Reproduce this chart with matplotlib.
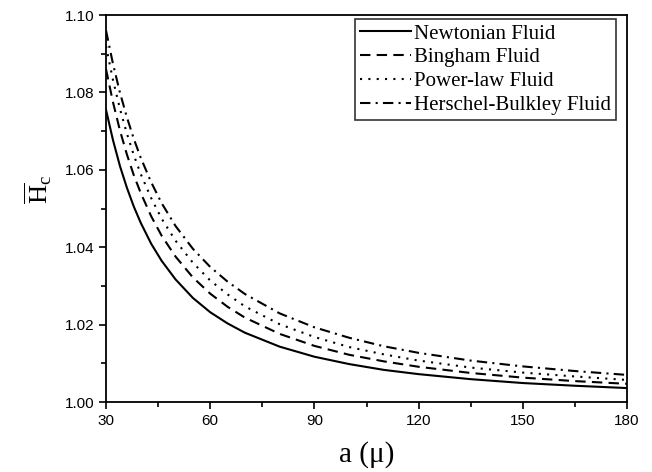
import matplotlib.pyplot as plt
from matplotlib.ticker import MultipleLocator

# a (mu) sample points and values
a_vals = [30, 32, 34, 36, 38, 40, 43, 46, 50, 55, 60, 65, 70, 80, 90,
          100, 110, 120, 135, 150, 165, 180]
newtonian = [1.0755, 1.0677, 1.0610, 1.0554, 1.0505, 1.0463, 1.0409, 1.0365,
             1.0317, 1.0269, 1.0232, 1.0203, 1.0179, 1.0143, 1.0117, 1.0098,
             1.0083, 1.0072, 1.0059, 1.0049, 1.0042, 1.0036]
bingham = [1.0860, 1.0775, 1.0702, 1.0640, 1.0586, 1.0540, 1.0480, 1.0430,
           1.0376, 1.0322, 1.0280, 1.0246, 1.0218, 1.0176, 1.0145, 1.0122,
           1.0105, 1.0091, 1.0075, 1.0063, 1.0054, 1.0047]
power_law = [1.0920, 1.0832, 1.0758, 1.0694, 1.0638, 1.0589, 1.0527, 1.0474,
             1.0417, 1.0360, 1.0314, 1.0278, 1.0247, 1.0201, 1.0168, 1.0142,
             1.0123, 1.0107, 1.0089, 1.0076, 1.0066, 1.0057]
herschel = [1.0960, 1.0874, 1.0800, 1.0736, 1.0680, 1.0631, 1.0568, 1.0514,
            1.0455, 1.0396, 1.0349, 1.0311, 1.0279, 1.0229, 1.0193, 1.0166,
            1.0144, 1.0127, 1.0107, 1.0092, 1.0080, 1.0070]

labels = ["Newtonian Fluid", "Bingham Fluid", "Power-law Fluid",
          "Herschel-Bulkley Fluid"]


def main():
    plt.rcParams['font.family'] = 'Liberation Sans'
    plt.rcParams['mathtext.fontset'] = 'custom'
    plt.rcParams['mathtext.rm'] = 'Liberation Serif'
    plt.rcParams['mathtext.it'] = 'Liberation Serif:italic'

    fig = plt.figure(figsize=(6.52, 4.72), dpi=100)
    ax = fig.add_axes([0.1626, 0.1483, 0.7991, 0.8199])

    ax.plot(a_vals, newtonian, color='black', lw=1.5, linestyle='-',
            label=labels[0])
    ax.plot(a_vals, bingham, color='black', lw=1.5, linestyle=(0, (5, 3)),
            label=labels[1])
    ax.plot(a_vals, power_law, color='black', lw=1.5, linestyle=(0, (1, 3)),
            label=labels[2])
    ax.plot(a_vals, herschel, color='black', lw=1.5,
            linestyle=(0, (5, 2.5, 1, 2.5)), label=labels[3])

    ax.set_xlim(30, 180)
    ax.set_ylim(1.00, 1.10)
    ax.xaxis.set_major_locator(MultipleLocator(30))
    ax.xaxis.set_minor_locator(MultipleLocator(15))
    ax.yaxis.set_major_locator(MultipleLocator(0.02))
    ax.yaxis.set_minor_locator(MultipleLocator(0.01))
    ax.yaxis.set_major_formatter(lambda v, p: "%.2f" % v)
    ax.tick_params(which='both', direction='out', top=False, right=False,
                   labelsize=11, width=1.2)
    ax.tick_params(which='major', length=5)
    ax.tick_params(which='minor', length=3.5)
    for s in ax.spines.values():
        s.set_linewidth(1.3)

    ax.set_xlabel("a (μ)", fontsize=21, family='Liberation Serif')
    ax.xaxis.set_label_coords(0.5, -0.1)
    ax.set_ylabel(r"$\overline{\mathrm{H}}_{\mathrm{c}}$", fontsize=19)
    ax.yaxis.set_label_coords(-0.1, 0.548)

    leg = ax.legend(loc='upper right', prop={'family': 'Liberation Serif',
                                             'size': 15},
                    frameon=True, fancybox=False, edgecolor='black',
                    handlelength=2.45, handletextpad=0.15, labelspacing=0.2,
                    borderpad=0.25, borderaxespad=0.0,
                    bbox_to_anchor=(0.979, 0.99))
    leg.get_frame().set_linewidth(1.2)

    fig.savefig("out.png", dpi=100)


if __name__ == "__main__":
    main()
